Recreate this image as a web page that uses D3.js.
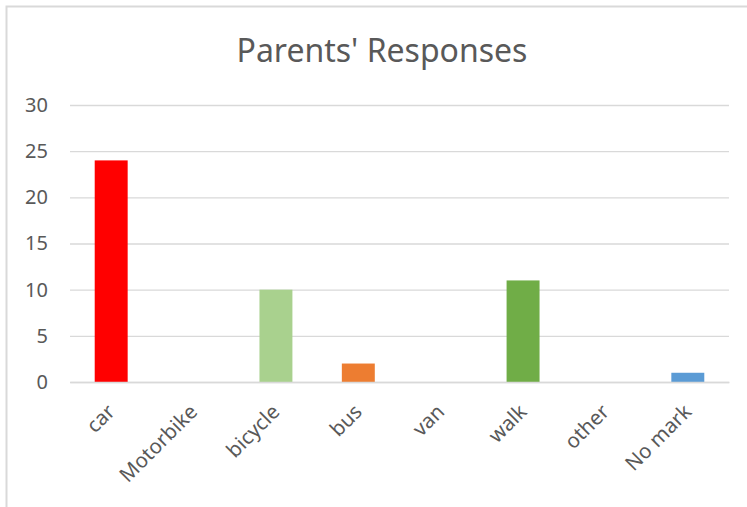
<!DOCTYPE html>
<html><head><meta charset="utf-8">
<script src="https://cdn.jsdelivr.net/npm/d3@7"></script>
<style>body{margin:0;background:#fff}svg{display:block}</style>
</head><body>
<svg id="c" width="747" height="507"></svg>
<script>
const categories = ["car","Motorbike","bicycle","bus","van","walk","other","No mark"];
const values = [24,0,10,2,0,11,0,1];
const colors = ["#FF0000","#A5A5A5","#A9D18E","#ED7D31","#FFC000","#70AD47","#4472C4","#5B9BD5"];
const yTicks = [0,5,10,15,20,25,30];
const title = "Parents' Responses";

const svg = d3.select("#c");
const font = "'Noto Sans', 'Open Sans', sans-serif";
// chart frame (only top and left edges visible in the reference crop)
svg.append("path").attr("d","M6.5,507V6.5H747").attr("fill","none")
  .attr("stroke","#D9D9D9").attr("stroke-width",2);

const x = d3.scaleBand().domain(categories).range([70,729]).paddingInner(0.6).paddingOuter(0.3);
const y = d3.scaleLinear().domain([0,30]).range([382,105]);

svg.append("text").attr("x",382).attr("y",62).attr("text-anchor","middle")
  .attr("font-family",font).attr("font-size",32).attr("fill","#595959").text(title);

const ya = svg.append("g").attr("transform","translate(70,0)")
  .call(d3.axisLeft(y).tickValues(yTicks).tickSize(-(729-70)).tickPadding(22));
ya.select(".domain").remove();
ya.selectAll(".tick line").attr("stroke","#D9D9D9").attr("stroke-width",1.3);
ya.selectAll(".tick text").attr("font-family",font).attr("font-size",20).attr("fill","#595959");

svg.append("g").selectAll("rect").data(values).join("rect")
  .attr("x",(d,i)=>x(categories[i])).attr("width",x.bandwidth())
  .attr("y",d=>y(d)).attr("height",d=>y(0)-y(d))
  .attr("fill",(d,i)=>colors[i]);

const xa = svg.append("g").attr("transform","translate(0,382)")
  .call(d3.axisBottom(x).tickSize(0).tickPadding(0));
xa.select(".domain").attr("stroke","#D9D9D9").attr("stroke-width",1.3);
xa.selectAll(".tick text").attr("font-family",font).attr("font-size",20.5).attr("fill","#595959")
  .attr("text-anchor","end").attr("dy",0)
  .attr("transform","translate(5,31) rotate(-45)");
</script>
</body></html>
